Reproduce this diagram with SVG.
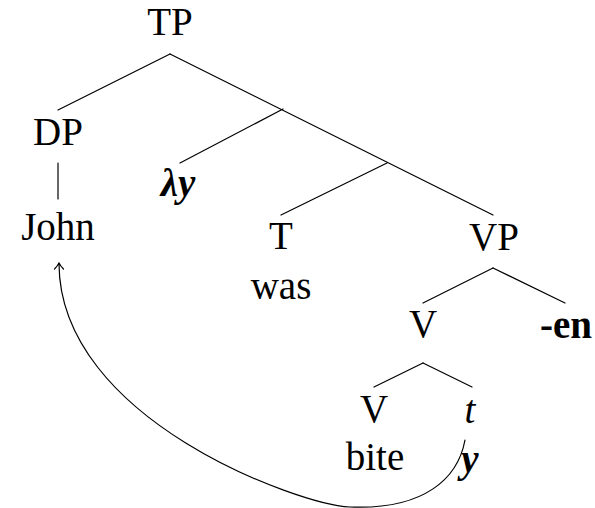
<svg xmlns="http://www.w3.org/2000/svg" width="595" height="508" viewBox="0 0 595 508">
<style>
text{font-family:"Liberation Serif","Times New Roman",serif;font-size:39px;fill:#000;text-anchor:middle}
.bi{font-weight:bold;font-style:italic}
.b{font-weight:bold}
.i{font-style:italic}
.e{stroke:#000;stroke-width:1.2;fill:none;stroke-linecap:round}
</style>
<rect width="595" height="508" fill="#fff"/>
<g id="connectors" class="e">
<line x1="170" y1="54" x2="58" y2="110"/>
<line x1="170" y1="54" x2="493" y2="215"/>
<line x1="283" y1="109" x2="180" y2="163"/>
<line x1="387" y1="163" x2="281" y2="215"/>
<line x1="58" y1="163" x2="58" y2="199"/>
<line x1="493" y1="268" x2="423" y2="303"/>
<line x1="493" y1="268" x2="565" y2="303"/>
<line x1="423" y1="363" x2="374" y2="387"/>
<line x1="423" y1="363" x2="472" y2="387"/>
<path d="M465,440 C458,478 425,510 350,507 C300,505 60,420 59,264"/>
<path d="M54.5,269 Q57.5,266 59,263 Q60.5,266 63.5,269"/>
</g>
<g id="TP"><text x="170" y="35">TP</text></g>
<g id="DP"><text x="58" y="145">DP</text></g>
<g id="John"><text x="58" y="240">John</text></g>
<g id="lambda"><text class="bi" x="178" y="196">λy</text></g>
<g id="T"><text x="281" y="249">T</text><text x="281" y="299">was</text></g>
<g id="VP"><text x="494" y="250">VP</text></g>
<g id="V1"><text x="423" y="337">V</text></g>
<g id="en"><text class="b" x="566" y="338">-en</text></g>
<g id="V2"><text x="374" y="422">V</text><text x="375" y="470">bite</text></g>
<g id="trace"><text class="i" x="470" y="423">t</text><text class="bi" x="470" y="472">y</text></g>
</svg>
